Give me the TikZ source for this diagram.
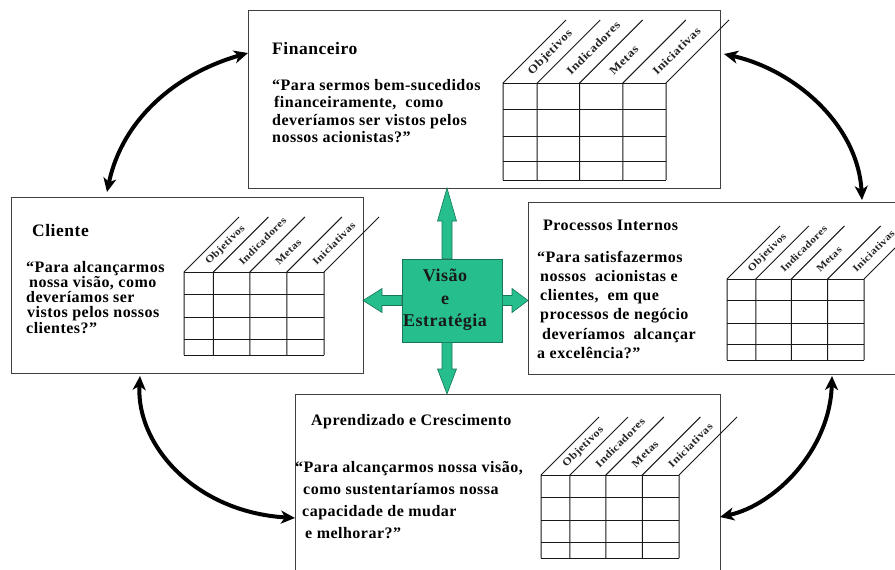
\documentclass[tikz,border=0pt]{standalone}
\usepackage{fontspec}
\setmainfont{Liberation Serif}
\newfontfamily\bsc{Liberation Serif}[LetterSpace=3]
\usetikzlibrary{arrows.meta,calc}
\definecolor{bscteal}{RGB}{38,190,140}
\definecolor{bsctealdark}{RGB}{22,118,88}
\tikzset{
  bscbox/.style={draw=black!75, line width=1pt, fill=white, anchor=north west, inner sep=0pt, outer sep=0pt},
  gridline/.style={draw=black!90, line width=1pt},
  hdrlabel/.style={rotate=45, anchor=west, inner sep=0.5pt, text=black!85},
  ttl/.style={anchor=base west, inner sep=0pt},
  body/.style={anchor=base west, inner sep=0pt, align=left},
  cyc/.style={line width=4pt, {Stealth[length=14pt,width=13pt,inset=4pt]}-{Stealth[length=14pt,width=13pt,inset=4pt]}},
  blockarrow/.style={fill=bscteal, draw=bsctealdark, line width=0.6pt},
}
% #1 prefix, #2 x, #3 y, #4 width, #5 height, #6 diagonal, #7 label font size
\newcommand{\bscgrid}[7]{%
  \begin{scope}[shift={(#2,#3)}]
    \foreach \f in {0,0.21,0.47,0.735,1}{
      \draw[gridline] ({\f*#4},#5) -- ({\f*#4},0) -- ++(#6,-#6);
    }
    \foreach \g in {0,0.27,0.55,0.81,1}{
      \draw[gridline] (0,{\g*#5}) -- (#4,{\g*#5});
    }
    \foreach \a/\b/\t in {0/0.21/Objetivos,0.21/0.47/Indicadores,0.47/0.735/Metas,0.735/1/Iniciativas}{
      \node[hdrlabel, font=\bsc\bfseries\fontsize{#7}{#7}\selectfont] (#1\t) at ({(\a+\b)/2*#4+0.15*#6},{-0.15*#6}) {\scalebox{1.15}[1]{\t}};
    }
  \end{scope}}
\begin{document}
\begin{tikzpicture}[x=1pt,y=-1pt]
\useasboundingbox (0,0) rectangle (895,570);
% boxes
\node[bscbox, minimum width=472, minimum height=178] (fin) at (248,10) {};
\node[bscbox, minimum width=352, minimum height=176] (cli) at (11,197) {};
\node[bscbox, minimum width=370, minimum height=172] (pro) at (528,202) {};
\node[bscbox, minimum width=425, minimum height=180] (apr) at (295,394) {};
% tables
\bscgrid{fin}{503}{83}{163}{97}{63}{11.5}
\bscgrid{cli}{184}{272}{140}{83}{55}{10.2}
\bscgrid{pro}{727}{279}{137}{81}{53}{10}
\bscgrid{apr}{541}{475}{138}{83}{58}{10.6}
% titles
\node[ttl, font=\bsc\bfseries\fontsize{17.5}{20}\selectfont] (finT) at (272,54) {Financeiro};
\node[ttl, font=\bsc\bfseries\fontsize{17.5}{20}\selectfont] (cliT) at (32,236) {Cliente};
\node[ttl, font=\bsc\bfseries\fontsize{16}{19}\selectfont] (proT) at (543,230) {Processos Internos};
\node[ttl, font=\bsc\bfseries\fontsize{16}{19}\selectfont] (aprT) at (311,425) {Aprendizado e Crescimento};
% questions (anchored at the baseline of the last line)
\node[body, font=\bsc\bfseries\fontsize{16}{17.5}\selectfont] (finQ) at (272,142.5)
  {“Para sermos bem-sucedidos\\\hspace*{2pt}financeiramente,\ \ como\\deveríamos ser vistos pelos\\nossos acionistas?”};
\node[body, font=\bsc\bfseries\fontsize{16}{15.2}\selectfont] (cliQ) at (26,333)
  {“Para alcançarmos\\\hspace*{3pt}nossa visão, como\\deveríamos ser\\\hspace*{1pt}vistos pelos nossos\\clientes?”};
\node[body, font=\bsc\bfseries\fontsize{16}{19.3}\selectfont] (proQ) at (537,358.5)
  {“Para satisfazermos\\\hspace*{3pt}nossos\ \ acionistas e\\\hspace*{3pt}clientes,\ \ em que\\\hspace*{3pt}processos de negócio\\\hspace*{5pt}deveríamos\ \ alcançar\\a excelência?”};
\node[body, font=\bsc\bfseries\fontsize{16}{22}\selectfont] (aprQ) at (295,538)
  {“Para alcançarmos nossa visão,\\\hspace*{8pt}como sustentaríamos nossa\\\hspace*{7pt}capacidade de mudar\\\hspace*{10pt}e melhorar?”};
% centre
\node[draw=bsctealdark, fill=bscteal, line width=0.6pt, minimum width=100, minimum height=83, inner sep=0pt] (vis) at (452,300.5) {};
\node[font=\bsc\bfseries\fontsize{18}{22.5}\selectfont, align=center, text=black!90, inner sep=0pt] (vistxt) at (445,300) {Visão\\e\\Estratégia};
% block arrows
\path let \p1=([xshift=-5pt]vis.north), \p2=(\p1 |- fin.south) in
  [blockarrow] (\x1-5pt,\y1) -- (\x1-5pt,\y2-33pt) -- (\x1-9.5pt,\y2-33pt) -- (\x1,\y2) -- (\x1+9.5pt,\y2-33pt) -- (\x1+5pt,\y2-33pt) -- (\x1+5pt,\y1) -- cycle;
\path let \p1=([xshift=-5pt]vis.south), \p2=(\p1 |- apr.north) in
  [blockarrow] (\x1-5pt,\y1) -- (\x1-5pt,\y2+25pt) -- (\x1-9.5pt,\y2+25pt) -- (\x1,\y2) -- (\x1+9.5pt,\y2+25pt) -- (\x1+5pt,\y2+25pt) -- (\x1+5pt,\y1) -- cycle;
\path let \p1=(vis.west), \p2=(\p1 -| cli.east) in
  [blockarrow] (\x1,\y1+5pt) -- (\x2+19pt,\y1+5pt) -- (\x2+19pt,\y1+12pt) -- (\x2,\y1) -- (\x2+19pt,\y1-12pt) -- (\x2+19pt,\y1-5pt) -- (\x1,\y1-5pt) -- cycle;
\path let \p1=(vis.east), \p2=(\p1 -| pro.west) in
  [blockarrow] (\x1,\y1+5pt) -- (\x2-16pt,\y1+5pt) -- (\x2-16pt,\y1+12pt) -- (\x2,\y1) -- (\x2-16pt,\y1-12pt) -- (\x2-16pt,\y1-5pt) -- (\x1,\y1-5pt) -- cycle;
% cycle arrows
\draw[cyc] ([xshift=96pt,yshift=5pt]cli.north west) .. controls (122,120) and (175,74) .. ([yshift=-43pt]fin.north west);
\draw[cyc] ([xshift=4pt,yshift=-44pt]fin.north east) .. controls (795,70) and (858,125) .. ([xshift=334pt,yshift=2pt]pro.north west);
\draw[cyc] ([xshift=129pt,yshift=-3pt]cli.south west) .. controls (136,445) and (195,512) .. ([yshift=-124pt]apr.north west);
\draw[cyc] ([xshift=304pt,yshift=-2pt]pro.south west) .. controls (830,450) and (775,505) .. ([yshift=-123pt]apr.north east);
\end{tikzpicture}
\end{document}
